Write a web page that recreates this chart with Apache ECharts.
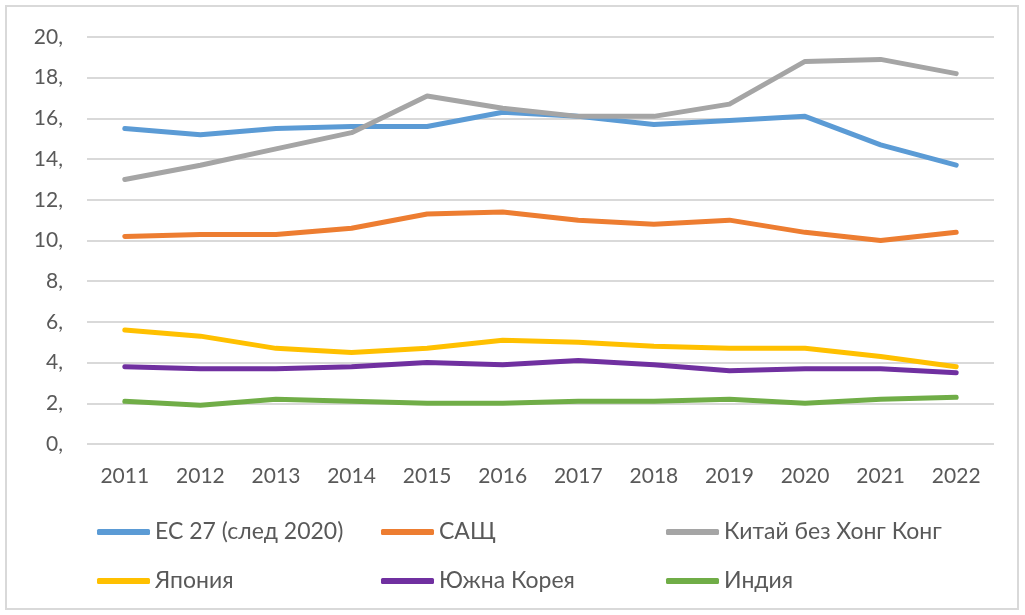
<!DOCTYPE html>
<html>
<head>
<meta charset="utf-8">
<script src="https://cdn.jsdelivr.net/npm/echarts@6/dist/echarts.min.js"></script>
<style>
  html, body { margin: 0; padding: 0; background: #fff; }
  #wrap { position: absolute; left: 5px; top: 5px; width: 1014px; height: 605px; border: 2px solid #d9d9d9; box-sizing: border-box; }
  #chart { position: absolute; left: 0; top: 0; width: 1025px; height: 615px; }
</style>
</head>
<body>
<div id="wrap"></div>
<div id="chart"></div>
<script>
const years = ['2011', '2012', '2013', '2014', '2015', '2016', '2017', '2018', '2019', '2020', '2021', '2022']
const yTicks = [0, 2, 4, 6, 8, 10, 12, 14, 16, 18, 20]

const eu27 = [15.5, 15.2, 15.5, 15.6, 15.6, 16.3, 16.1, 15.7, 15.9, 16.1, 14.7, 13.7]
const usa = [10.2, 10.3, 10.3, 10.6, 11.3, 11.4, 11.0, 10.8, 11.0, 10.4, 10.0, 10.4]
const china = [13.0, 13.7, 14.5, 15.3, 17.1, 16.5, 16.1, 16.1, 16.7, 18.8, 18.9, 18.2]
const japan = [5.6, 5.3, 4.7, 4.5, 4.7, 5.1, 5.0, 4.8, 4.7, 4.7, 4.3, 3.8]
const korea = [3.8, 3.7, 3.7, 3.8, 4.0, 3.9, 4.1, 3.9, 3.6, 3.7, 3.7, 3.5]
const india = [2.1, 1.9, 2.2, 2.1, 2.0, 2.0, 2.1, 2.1, 2.2, 2.0, 2.2, 2.3]

const names = ['ЕС 27 (след 2020)', 'САЩ', 'Китай без Хонг Конг', 'Япония', 'Южна Корея', 'Индия']
const colors = ['#5B9BD5', '#ED7D31', '#A5A5A5', '#FFC000', '#7030A0', '#70AD47']
const values = [eu27, usa, china, japan, korea, india]

const font = 'Lato'
const textColor = '#595959'

function legendCol(left, items) {
  return {
    orient: 'vertical',
    left: left,
    top: 520,
    padding: 0,
    itemWidth: 53,
    itemHeight: 6,
    itemGap: 25,
    icon: 'roundRect',
    data: items,
    textStyle: { fontFamily: font, fontSize: 23, lineHeight: 24, color: textColor, padding: [0, 0, 0, 0] }
  }
}

const chart = echarts.init(document.getElementById('chart'))
chart.setOption({
  animation: false,
  color: colors,
  grid: { left: 87, right: 31, top: 37, bottom: 171 },
  legend: [
    legendCol(97, [names[0], names[3]]),
    legendCol(381, [names[1], names[4]]),
    legendCol(666, [names[2], names[5]])
  ],
  xAxis: {
    type: 'category',
    data: years,
    axisLine: { show: false },
    axisTick: { show: false },
    axisLabel: { fontFamily: font, fontSize: 21, color: textColor, margin: 22 }
  },
  yAxis: {
    type: 'value',
    min: yTicks[0],
    max: yTicks[yTicks.length - 1],
    interval: 2,
    axisLabel: {
      fontFamily: font, fontSize: 21, color: textColor, margin: 24,
      formatter: v => v + ','
    },
    splitLine: { lineStyle: { color: '#d9d9d9', width: 2 } }
  },
  series: values.map((data, i) => ({
    name: names[i],
    type: 'line',
    data: data,
    symbol: 'none',
    lineStyle: { width: 5, cap: 'round', join: 'round' }
  }))
})
</script>
</body>
</html>
